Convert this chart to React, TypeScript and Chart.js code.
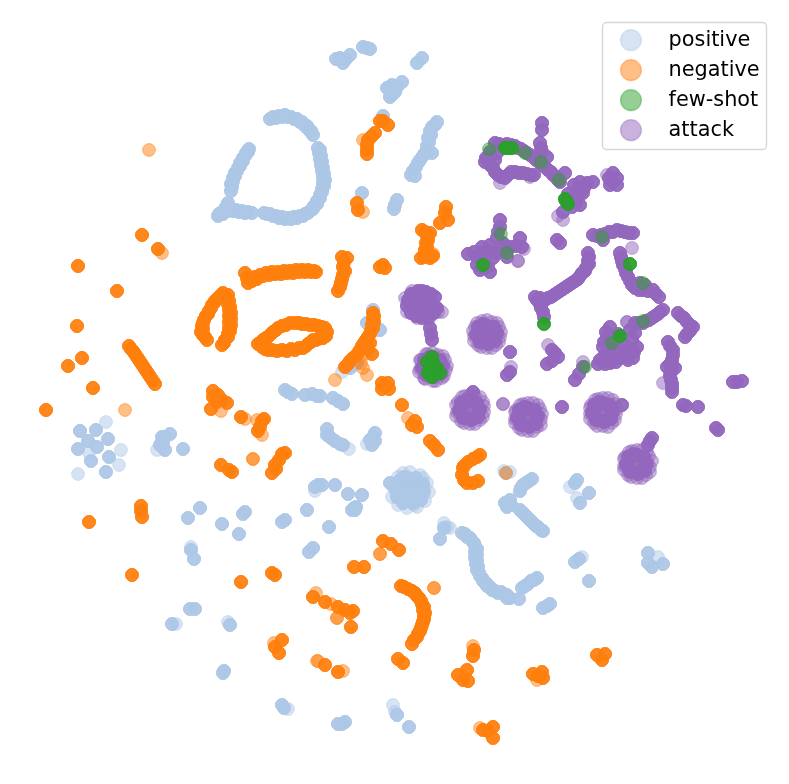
import React, { useEffect, useRef } from "react";
import { Chart, registerables } from "chart.js";

Chart.register(...registerables);

type P = [number, number];

const seriesNames = ["positive", "negative", "few-shot", "attack"];
const seriesColors = ["174,199,232", "255,127,14", "44,160,44", "148,103,189"];

// Projection values (heavily overplotted samples).
const positiveDense: P[] = [
  [340,58],[343,63],[346,59],[350,55],[336,59],[363,47],[367,48],[370,49],[422,58],[417,63],
  [402,82],[397,87],[390,88],[387,88],[392,95],[390,97],[392,85],[395,92],[383,116],
  [435,125],[432,127],[437,122],[430,131],[431,135],[428,138],[429,142],[427,146],[428,150],[425,153],[432,153],[423,156],[420,160],[418,163],[416,167],[413,171],[411,175],[415,176],
  [270,119],[273,117],[276,118],[279,116],[282,117],[285,115],[288,117],[291,117],[294,119],[297,119],[300,122],[302,122],[305,126],[307,126],[309,130],[311,131],[313,135],
  [318,148],[320,150],[319,153],[321,156],[320,159],[322,162],[321,165],[323,168],[322,171],[324,174],[323,177],[325,180],[323,183],[324,186],[322,189],[322,192],[320,195],[320,198],[317,201],[317,204],[314,206],[313,209],[310,211],[308,213],[305,214],[303,216],[300,216],[297,218],[294,217],[291,219],[288,218],[285,219],[282,217],[279,218],[276,216],[273,216],[270,214],[267,214],[264,213],
  [249,149],[248,152],[246,153],[245,156],[243,158],[243,161],[240,163],[240,166],[238,168],[237,171],[235,173],[235,176],[233,178],[233,181],[231,184],[232,187],[231,191],
  [228,203],[226,207],[225,210],[222,212],[219,214],[218,216],[223,214],[227,211],[230,210],[233,211],[236,210],[239,212],[242,211],[245,213],[248,212],[252,213],
  [362,193],[397,200],[395,205],[394,209],
  [373,310],[367,323],[380,330],[357,363],[350,368],
  [285,390],[288,392],[292,394],[305,395],[312,394],[317,396],[320,396],[333,398],[338,401],[343,404],
  [327,429],[327,435],[331,438],[335,441],[340,444],[343,445],
  [373,437],[375,433],[372,445],[370,440],[375,441],
  [80,431],[96,430],[108,439],[88,441],[78,449],[97,447],[109,457],[91,461],[106,472],
  [163,442],[170,434],[165,437],[162,437],[165,450],[160,445],[183,449],
  [315,487],[318,485],[322,485],[335,485],[348,494],[362,495],[354,508],[355,510],[352,510],[356,507],
  [200,508],[188,518],[222,524],[245,512],[243,514],[239,534],[285,520],[282,522],[307,510],[329,527],[313,548],[309,552],
  [191,550],[194,559],[190,609],[195,609],[172,624],[230,625],[223,673],[224,671],
  [282,705],[284,708],[342,724],[345,722],[338,724],[397,715],[409,727],
  [444,528],[440,539],
  [462,533],[465,534],[467,537],[470,538],[472,541],[474,543],[475,546],[477,549],[475,552],[477,555],[475,558],[477,561],[476,564],[478,567],[477,570],[479,573],[480,576],[482,578],[483,581],[486,583],[487,586],[490,587],[492,590],[495,591],[498,593],[501,592],[504,594],[507,595],[507,598],[510,598],[519,599],
  [522,588],[525,586],[528,584],[531,581],[534,580],[537,578],[543,608],[547,606],[550,604],
  [532,479],[529,481],[526,483],[523,485],[521,488],[520,491],
  [510,500],[508,503],[507,507],[511,505],[505,503],
  [520,510],[522,512],[524,514],[526,516],[528,518],[530,520],[532,522],[534,524],[536,526],[538,527],[541,530],[543,531],
  [577,480],[575,483],[589,493],[580,503],[579,559],[575,562],[589,581],[648,553],[652,567],[663,564],[648,563],
  [506,473],
  [410,490],[404,484],[416,484],[418,492],[412,498],[403,495],[398,489],[408,478],[390,483],
  [416,478],[423,484],[424,492],[421,500],[413,503],[403,503],[397,497],[396,490],[399,481],[404,477],
];
const positiveFaint: P[] = [
  [106,422],[89,453],[121,450],[119,465],[78,474],[157,450],[343,404],[349,449],[367,444],[315,491],[191,547],
  [176,624],[228,622],[288,709],[395,712],[444,523],[450,528],[570,487],[577,498],[582,557],[658,557],[504,471],[510,472],
  [410,472],[420,475],[427,483],[429,492],[425,501],[417,507],[407,508],[398,505],[392,497],[393,487],[398,477],[403,473],[414,505],[423,478],
  [447,527],[352,367],[342,372],[393,705],
];

const negativeDense: P[] = [
  [383,121],[380,121],[388,125],[372,136],[370,138],[368,140],[367,145],[367,150],[367,154],[375,133],
  [357,203],[358,210],
  [446,207],[445,213],[440,223],[448,220],[422,230],[425,232],[430,233],[427,236],[428,240],[426,243],[427,247],[425,250],[427,254],[424,257],[430,258],[421,258],[433,256],
  [383,265],[380,267],[385,268],[342,257],[347,258],[344,262],[343,267],[345,271],[343,275],[342,279],[341,283],[340,287],[338,291],
  [245,273],[247,278],[248,283],[250,279],[252,281],[255,277],[257,279],[260,275],[263,276],[266,273],[269,275],[272,272],[275,274],[278,272],[281,274],[284,271],[287,273],[290,271],[293,273],[296,270],[299,272],[302,270],[305,272],[308,270],[311,272],[314,271],[316,272],
  [223,293],[221,295],[219,297],[217,299],[215,301],[214,303],[212,305],[211,308],[209,311],[208,314],[206,316],[204,320],[203,323],[202,326],[203,329],[201,332],[203,335],[205,337],[207,340],
  [228,295],[227,298],[229,301],[228,304],[230,307],[229,310],[231,313],[229,316],[231,319],[229,322],[231,325],[229,328],[230,331],[228,334],[228,337],[225,340],[224,343],[222,345],
  [258,344],[261,342],[263,340],[266,338],[268,337],[271,334],[273,332],[276,330],[278,328],[282,326],[286,325],[290,323],[295,323],[299,323],[302,324],[306,324],[310,325],[314,325],[318,326],[322,327],[325,328],[327,332],
  [262,347],[265,349],[268,350],[272,350],[277,351],[282,350],[287,351],[291,349],[295,350],[299,348],[303,348],[306,346],[308,344],[311,342],[313,340],[316,340],[318,339],[321,338],[323,338],[326,336],
  [373,313],[374,316],[373,319],[374,322],[372,325],[373,328],[371,331],[370,334],[368,337],[366,340],[364,343],[362,346],[360,350],[358,353],[356,356],[353,358],[350,361],[348,364],[345,367],[370,343],[367,346],[372,354],[368,349],
  [382,383],[388,383],[389,389],[382,389],[385,386],
  [142,235],[158,249],[78,266],[117,291],[77,326],[82,358],[68,366],[93,388],[46,410],
  [129,346],[131,349],[133,351],[135,354],[137,357],[139,360],[141,363],[143,366],[145,369],[147,372],[149,375],[151,378],[153,381],[155,384],
  [213,391],[213,397],[217,402],[222,400],[227,403],[211,409],[218,395],
  [241,417],[262,421],[264,419],[258,431],[260,427],
  [285,453],[282,454],[279,460],[275,465],[272,473],[276,469],[221,465],[232,472],[229,470],
  [141,506],[142,517],[141,511],[89,522],[132,575],[241,582],[272,573],[275,575],
  [354,567],[364,567],[383,541],[391,544],[399,550],
  [313,597],[325,602],[338,607],[345,610],[350,613],[353,611],[351,627],
  [282,640],[275,647],[279,653],[325,665],[338,672],
  [402,405],[412,425],[417,427],[415,421],[430,441],[434,445],[438,450],
  [477,457],[473,459],[468,462],[464,466],[463,468],[462,475],[464,480],[467,483],[473,483],[478,481],[480,455],
  [401,586],[404,587],[408,589],[412,591],[415,593],[417,596],[419,598],[421,601],[422,604],[424,607],[423,610],[425,613],[424,616],[424,619],[423,622],[422,625],[421,628],[420,631],[418,634],[417,637],[414,640],[412,644],
  [398,659],[403,663],[474,650],[473,656],
  [467,670],[458,675],[463,680],[468,681],[533,674],[542,672],[543,678],[538,676],
  [597,655],[605,654],[602,660],[493,727],[483,730],[493,738],[488,731],
];
const negativeFaint: P[] = [
  [149,150],[162,253],[125,410],[363,140],[363,212],[433,254],[363,368],[367,375],[335,380],[253,459],[253,459],
  [221,411],[245,419],[257,420],[262,435],[318,661],[343,671],[316,593],[331,604],[337,618],[337,618],[380,554],[380,554],
  [408,418],[506,473],[434,588],[434,588],[473,646],[537,680],[480,728],[317,661],[274,643],[363,355],[361,363],
];

const fewShotDense: P[] = [
  [505,148],[508,148],[512,148],[565,199],[568,204],[566,201],[483,265],[630,264],[544,324],[620,336],
  [432,357],[427,362],[433,363],[430,372],[440,373],[435,373],[432,377],[428,373],[431,367],[437,368],
];
const fewShotFaint: P[] = [
  [489,149],[525,153],[541,162],[559,180],[501,234],[507,253],[602,237],[643,283],[612,343],[585,367],[643,321],
];

const attackDense: P[] = [
  [542,123],[542,130],[540,143],[541,148],[542,152],[547,157],
  [495,143],[499,144],[503,145],[507,144],[511,145],[515,146],[518,148],[521,149],[524,151],[527,153],[530,155],[533,157],[536,160],[539,162],[542,165],[545,167],[548,170],[551,172],[553,175],[556,177],[558,180],[560,182],[565,173],
  [485,162],[490,152],[497,153],[489,158],[495,160],[486,158],[490,165],
  [493,168],[495,172],[498,175],[501,177],[505,178],[508,175],[511,172],[515,172],[519,173],[523,173],[527,174],[531,175],[534,175],
  [593,182],[587,183],[580,182],[577,190],[572,198],[583,193],[580,205],[572,207],[563,212],[574,185],[579,195],[584,188],[576,203],[568,194],
  [613,173],[613,182],[617,185],[610,185],[617,178],[609,178],
  [500,220],[500,227],[497,238],[490,245],[482,247],[468,254],[477,257],[503,243],[520,238],[522,247],[507,257],[488,267],[480,270],[490,272],[510,247],[497,253],[484,262],
  [492,252],[482,253],[474,252],[485,255],[493,258],[484,268],[477,265],[505,247],[498,232],[516,246],[503,250],
  [557,240],[560,243],
  [593,235],[597,236],[601,235],[605,234],[609,232],[613,232],[617,230],[621,231],[625,232],[629,233],[633,233],[603,240],
  [620,253],[621,257],[622,261],[623,265],[625,269],[626,273],[628,277],[630,281],[632,285],[635,288],[639,290],[643,290],[648,291],[653,290],[656,294],[659,297],[640,283],[645,285],
  [588,253],[589,257],[588,261],[589,264],[586,268],[585,271],[582,273],[580,276],[578,279],[575,281],[572,283],[569,285],[566,287],[563,289],[560,291],[557,293],[554,295],[551,297],[548,298],[545,300],[543,300],[540,298],[537,300],[535,297],[540,304],[541,308],[543,312],[544,317],
  [430,328],[431,334],[432,340],[510,352],[510,372],[507,375],
  [552,350],[555,353],[558,357],[552,361],[547,364],[575,380],[579,374],[583,367],
  [663,310],[660,312],[658,314],[655,316],[652,318],[649,320],[646,321],[643,323],[639,323],[635,323],
  [610,327],[607,337],[603,347],[600,360],[610,363],[620,358],[633,358],[637,347],[635,333],[627,357],[613,350],[632,340],[605,355],[616,343],
  [606,332],[612,338],[618,334],[604,342],[609,348],[608,358],[615,358],[625,352],[629,348],[634,352],[630,330],[625,345],[612,356],[598,364],[616,362],[628,360],[605,364],
  [678,313],[681,316],[684,318],[687,322],[690,325],[693,327],[690,331],[687,334],[685,337],
  [668,342],[670,346],[673,350],[673,355],[672,360],[670,364],[667,367],[672,367],[675,368],[671,372],[670,376],[671,380],[672,384],[672,388],[672,392],
  [683,405],[686,406],[698,407],[718,430],[716,428],[737,382],[742,381],[733,382],
  [562,407],[473,392],[622,405],[652,438],[650,441],[648,445],
  [421,298],[412,300],[430,300],[425,305],[415,308],[434,307],[420,312],[428,313],[410,303],[422,291],[414,295],[431,294],
  [411,294],[408,300],[407,306],[411,313],[416,316],[422,318],[428,318],[434,313],[437,308],[435,297],[426,292],[418,291],[420,305],[415,302],[426,300],
  [487,334],[482,328],[493,330],[491,340],[481,338],[487,326],[495,336],[479,333],[485,342],
  [494,327],[497,333],[495,341],[488,344],[480,342],[476,335],[478,327],[483,324],
  [433,367],[428,360],[439,361],[441,370],[436,375],[427,374],[424,366],[433,357],
  [440,360],[443,366],[441,374],[434,377],[426,375],[422,368],[424,360],[429,357],
  [470,410],[464,404],[476,403],[479,411],[474,418],[464,417],[460,410],[470,400],
  [477,403],[480,409],[478,417],[471,420],[463,418],[459,411],[461,403],[466,400],
  [528,417],[522,411],[534,411],[537,418],[532,425],[522,424],[518,417],[528,408],
  [535,410],[538,416],[536,424],[529,427],[521,425],[517,418],[519,410],[524,407],
  [603,412],[597,406],[609,406],[612,413],[607,420],[597,419],[593,412],[603,403],
  [610,405],[613,411],[611,419],[604,422],[596,420],[592,413],[594,405],[599,402],
  [637,464],[631,458],[643,458],[646,465],[641,472],[631,471],[627,464],[637,455],
  [644,457],[647,463],[645,471],[638,474],[630,472],[626,465],[628,457],[633,454],
];
const attackFaint: P[] = [
  [442,312],[405,298],[407,312],[417,318],[429,319],[438,312],[412,291],
  [487,320],[497,323],[501,332],[499,342],[492,348],[481,347],[474,341],[473,331],[477,323],
  [492,322],[499,327],[500,337],[496,345],[487,348],[478,345],[474,336],[475,327],[482,321],
  [433,353],[443,356],[447,366],[444,376],[436,381],[425,379],[419,372],[420,360],[426,354],
  [438,355],[445,360],[446,370],[442,378],[433,381],[424,378],[420,369],[421,360],[428,354],
  [470,395],[480,397],[484,406],[483,417],[475,424],[464,423],[456,416],[456,405],[462,397],
  [475,396],[483,402],[484,412],[480,420],[470,424],[461,421],[457,412],[458,402],[465,396],
  [528,403],[538,405],[542,414],[541,425],[533,431],[522,430],[515,423],[515,412],[520,405],
  [533,403],[540,409],[541,419],[537,427],[528,431],[519,428],[515,419],[516,410],[523,404],
  [603,398],[613,400],[617,409],[615,420],[608,427],[597,426],[590,419],[590,408],[595,400],
  [608,398],[615,404],[616,414],[612,423],[603,426],[594,423],[590,414],[591,405],[598,399],
  [637,450],[647,452],[652,461],[650,472],[642,478],[631,477],[624,470],[624,459],[629,452],
  [642,450],[649,456],[650,467],[646,475],[637,478],[628,475],[624,466],[625,457],[632,451],
  [503,404],[503,404],[511,367],[548,345],[627,322],[627,322],[563,220],[558,216],[607,175],[500,183],[632,248],[530,177],[518,261],[518,261],[663,383],[524,249],[583,362],
];

const repeat = (a: P[]) => [...a, ...a, ...a, ...a];
const toPoints = (a: P[]) => a.map(([x, y]) => ({ x, y }));

const seriesPoints: P[][] = [
  [...positiveFaint, ...repeat(positiveDense)],
  [...negativeFaint, ...repeat(negativeDense)],
  [...fewShotFaint, ...repeat(fewShotDense)],
  [...attackFaint, ...repeat(attackDense)],
];
const drawOrder = [4, 3, 1, 2];

const swatch = (rgb: string) => {
  const c = document.createElement("canvas");
  c.width = 24;
  c.height = 24;
  const g = c.getContext("2d")!;
  g.beginPath();
  g.arc(12, 12, 10.4, 0, Math.PI * 2);
  g.fillStyle = `rgba(${rgb},0.5)`;
  g.fill();
  g.lineWidth = 1.2;
  g.strokeStyle = `rgba(${rgb},0.5)`;
  g.stroke();
  return c;
};

const legendFrame = {
  id: "legendFrame",
  afterLayout(chart: any) {
    const l = chart.legend;
    l.left = 594.5;
    l.top = 20.6;
    l.right = 775;
    l.bottom = 160;
    l.width = 181;
    l.height = 140;
  },
  beforeDraw(chart: any) {
    const g = chart.ctx;
    g.save();
    g.beginPath();
    g.roundRect(602.5, 22.5, 164, 127, 4);
    g.fillStyle = "rgba(255,255,255,0.8)";
    g.fill();
    g.lineWidth = 1.4;
    g.strokeStyle = "#d6d6d6";
    g.stroke();
    g.restore();
  },
};

export default function App() {
  const ref = useRef<HTMLCanvasElement>(null);
  useEffect(() => {
    document.body.style.margin = "0";
    const chart = new Chart(ref.current!, {
      type: "scatter",
      data: {
        datasets: seriesNames.map((label, i) => ({
          label,
          data: toPoints(seriesPoints[i]),
          order: drawOrder[i],
          backgroundColor: `rgba(${seriesColors[i]},0.5)`,
          borderColor: `rgba(${seriesColors[i]},0.5)`,
          borderWidth: 1,
          pointRadius: 6.4,
          pointHoverRadius: 6.4,
          clip: false,
        })),
      },
      options: {
        responsive: false,
        animation: false,
        layout: { padding: 0, autoPadding: false },
        scales: {
          x: { type: "linear", min: 0, max: 789, display: false },
          y: { type: "linear", min: 0, max: 784, reverse: true, display: false },
        },
        plugins: {
          tooltip: { enabled: false },
          legend: {
            position: "chartArea",
            align: "start",
            labels: {
              usePointStyle: true,
              pointStyleWidth: 54.5,
              boxHeight: 20,
              padding: 9.17,
              color: "#000",
              font: { family: "'DejaVu Sans'", size: 20.83, lineHeight: 1 },
              generateLabels: () =>
                seriesNames.map((text, i) => ({
                  text,
                  fontColor: "#000",
                  datasetIndex: i,
                  lineWidth: 0,
                  pointStyle: swatch(seriesColors[i]),
                })),
            },
          },
        },
      },
      plugins: [legendFrame],
    } as any);
    return () => chart.destroy();
  }, []);
  return <canvas ref={ref} width={789} height={784} style={{ display: "block" }} />;
}
